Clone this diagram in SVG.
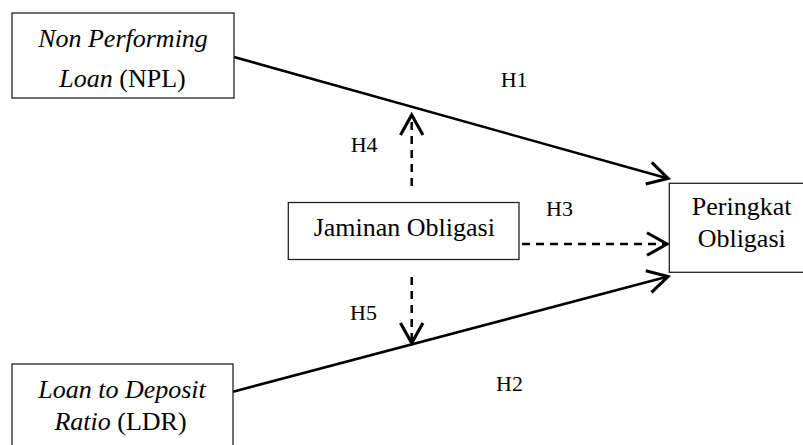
<svg xmlns="http://www.w3.org/2000/svg" width="803" height="445" viewBox="0 0 803 445">
<defs>
<style>
.box{fill:#fff;stroke:#222;stroke-width:1.3}
.t{font-family:"Liberation Serif","Times New Roman",serif;font-size:26px;fill:#000}
.h{font-family:"Liberation Serif","Times New Roman",serif;font-size:22px;fill:#000}
.i{font-style:italic}
.ln{fill:none;stroke:#000;stroke-width:2.5}
.ds{stroke-dasharray:8 6}
</style>
<marker id="arr" markerUnits="userSpaceOnUse" markerWidth="30" markerHeight="30" viewBox="-20 -12 24 24" refX="0" refY="0" orient="auto" overflow="visible">
<path d="M-16,-9 L0,0 L-16,9" fill="none" stroke="#000" stroke-width="2.5" stroke-dasharray="none"/>
</marker>
</defs>
<rect width="803" height="445" fill="#fff"/>
<g id="connectors">
<path class="ln" d="M234,57 L668,178.5" marker-end="url(#arr)"/>
<path class="ln" d="M233,391.7 L668,276.5" marker-end="url(#arr)"/>
<path class="ln ds" d="M522,244 L667,244" marker-end="url(#arr)"/>
<path class="ln ds" d="M411.7,186 L411.7,115" marker-end="url(#arr)"/>
<path class="ln ds" d="M411.7,277 L411.7,343" marker-end="url(#arr)"/>
</g>
<g id="labels">
<text class="h" x="500.7" y="87.3">H1</text>
<text class="h" x="496" y="390.7">H2</text>
<text class="h" x="546" y="216">H3</text>
<text class="h" x="350.7" y="151.7">H4</text>
<text class="h" x="350" y="320">H5</text>
</g>
<g id="npl">
<rect class="box" x="12" y="13" width="222" height="85"/>
<text class="t i" x="123" y="47" text-anchor="middle">Non Performing</text>
<text class="t" x="122.5" y="87" text-anchor="middle"><tspan class="i">Loan</tspan> (NPL)</text>
</g>
<g id="ldr">
<rect class="box" x="12" y="364" width="221" height="100"/>
<text class="t i" x="122" y="398" text-anchor="middle">Loan to Deposit</text>
<text class="t" x="120.5" y="430" text-anchor="middle"><tspan class="i">Ratio</tspan> (LDR)</text>
</g>
<g id="jaminan">
<rect class="box" x="288.3" y="202.5" width="230.7" height="57"/>
<text class="t" x="404.3" y="235.7" text-anchor="middle">Jaminan Obligasi</text>
</g>
<g id="peringkat">
<rect class="box" x="669.3" y="183.3" width="150" height="89"/>
<text class="t" x="741.7" y="215" text-anchor="middle">Peringkat</text>
<text class="t" x="741.7" y="247.3" text-anchor="middle">Obligasi</text>
</g>
</svg>
